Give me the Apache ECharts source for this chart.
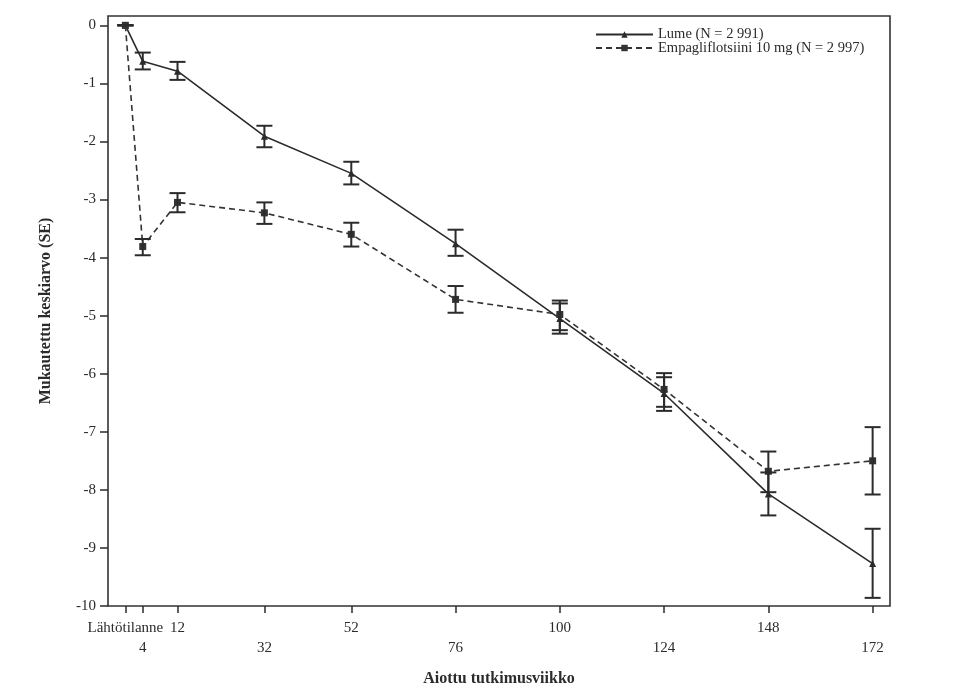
<!DOCTYPE html>
<html>
<head>
<meta charset="utf-8">
<script src="https://cdn.jsdelivr.net/npm/echarts@6/dist/echarts.min.js"></script>
<style>
  html, body { margin: 0; padding: 0; background: #fff; }
  #chart { width: 963px; height: 696px; }
</style>
</head>
<body>
<div id="chart"></div>
<script>
// study weeks and their tick labels
const weeks = [0, 4, 12, 32, 52, 76, 100, 124, 148, 172];
const weekLabels = ['Lähtötilanne', '4', '12', '32', '52', '76', '100', '124', '148', '172'];
const yTicks = [-10, -9, -8, -7, -6, -5, -4, -3, -2, -1, 0];

// adjusted mean (SE)
const lumeMean = [0, -0.62, -0.79, -1.91, -2.55, -3.76, -5.05, -6.34, -8.07, -9.27];
const lumeLow  = [0, -0.76, -0.94, -2.10, -2.74, -3.97, -5.31, -6.64, -8.44, -9.86];
const lumeHigh = [0, -0.47, -0.63, -1.73, -2.35, -3.52, -4.79, -6.06, -7.70, -8.67];

const empaMean = [0, -3.81, -3.05, -3.23, -3.60, -4.72, -4.98, -6.27, -7.68, -7.50];
const empaLow  = [0, -3.96, -3.22, -3.42, -3.81, -4.95, -5.25, -6.57, -8.04, -8.08];
const empaHigh = [0, -3.68, -2.89, -3.05, -3.40, -4.49, -4.74, -5.99, -7.34, -6.92];

const lumeName = 'Lume (N = 2 991)';
const empaName = 'Empagliflotsiini 10 mg (N = 2 997)';

const ink = '#2b2b2b';
const font = 'Liberation Serif';

// labels alternate between two rows under the axis
const upperWeeks = weeks.filter((w, i) => i % 2 === 0);
const lowerWeeks = weeks.filter((w, i) => i % 2 === 1);

function points(ys) {
  return weeks.map((w, i) => [w, ys[i]]);
}
function bars(lo, hi) {
  return weeks.map((w, i) => [w, lo[i], hi[i]]);
}
function weekLabel(v) {
  const i = weeks.indexOf(v);
  return i < 0 ? '' : weekLabels[i];
}

function renderErrorBar(params, api) {
  const x = api.value(0);
  const lo = api.coord([x, api.value(1)]);
  const hi = api.coord([x, api.value(2)]);
  const w = 8;
  const style = { stroke: ink, lineWidth: 2 };
  return {
    type: 'group',
    children: [
      { type: 'line', shape: { x1: lo[0], y1: lo[1], x2: hi[0], y2: hi[1] }, style },
      { type: 'line', shape: { x1: lo[0] - w, y1: lo[1], x2: lo[0] + w, y2: lo[1] }, style },
      { type: 'line', shape: { x1: hi[0] - w, y1: hi[1], x2: hi[0] + w, y2: hi[1] }, style }
    ]
  };
}

const labelFont = { fontFamily: font, fontSize: 15, color: ink };

const chart = echarts.init(document.getElementById('chart'));
chart.setOption({
  animation: false,
  backgroundColor: '#fff',
  textStyle: { fontFamily: font, color: ink },
  grid: {
    left: 108, right: 73, top: 16, bottom: 90,
    show: true, borderColor: '#333', borderWidth: 1.6
  },
  legend: {
    orient: 'vertical',
    left: 590, top: 22,
    itemWidth: 57, itemHeight: 8, itemGap: -1.5,
    data: [lumeName, empaName],
    textStyle: { fontFamily: font, fontSize: 14.5, color: ink }
  },
  xAxis: [
    {
      type: 'value',
      position: 'bottom',
      min: -4, max: 176,
      name: 'Aiottu tutkimusviikko',
      nameLocation: 'middle',
      nameGap: 65,
      nameTextStyle: { fontFamily: font, fontSize: 16, fontWeight: 'bold', color: ink },
      axisLine: { show: false, onZero: false },
      splitLine: { show: false },
      axisTick: { show: true, length: 7, interval: 0, customValues: weeks, lineStyle: { color: ink, width: 1.5 } },
      axisLabel: Object.assign({
        customValues: upperWeeks,
        interval: 0, hideOverlap: false,
        showMinLabel: true, showMaxLabel: true,
        margin: 15,
        formatter: weekLabel
      }, labelFont)
    },
    {
      type: 'value',
      position: 'bottom',
      offset: 0,
      min: -4, max: 176,
      axisLine: { show: false, onZero: false },
      splitLine: { show: false },
      axisTick: { show: false },
      axisLabel: Object.assign({
        customValues: lowerWeeks,
        interval: 0, hideOverlap: false,
        showMinLabel: true, showMaxLabel: true,
        margin: 35,
        formatter: weekLabel
      }, labelFont)
    }
  ],
  yAxis: {
    type: 'value',
    min: -10, max: 0.16,
    name: 'Mukautettu keskiarvo (SE)',
    nameLocation: 'middle',
    nameGap: 54,
    nameTextStyle: { fontFamily: font, fontSize: 16, fontWeight: 'bold', color: ink },
    axisLine: { show: false, onZero: false },
    splitLine: { show: false },
    axisTick: { show: true, length: 8, customValues: yTicks, lineStyle: { color: ink, width: 1.5 } },
    axisLabel: Object.assign({
      customValues: yTicks,
      showMinLabel: true, showMaxLabel: true,
      margin: 12,
      formatter: v => String(v)
    }, labelFont)
  },
  series: [
    {
      name: lumeName,
      type: 'line',
      data: points(lumeMean),
      symbol: 'triangle', symbolSize: 7,
      color: ink,
      lineStyle: { color: ink, width: 1.6, type: 'solid' },
      itemStyle: { color: ink },
      z: 3
    },
    {
      name: empaName,
      type: 'line',
      data: points(empaMean),
      symbol: 'rect', symbolSize: 7,
      color: '#333',
      lineStyle: { color: '#333', width: 1.6, type: [6, 4] },
      itemStyle: { color: '#333' },
      z: 3
    },
    {
      name: 'lumeSE',
      type: 'custom',
      renderItem: renderErrorBar,
      data: bars(lumeLow, lumeHigh),
      encode: { x: 0, y: [1, 2] },
      z: 4
    },
    {
      name: 'empaSE',
      type: 'custom',
      renderItem: renderErrorBar,
      data: bars(empaLow, empaHigh),
      encode: { x: 0, y: [1, 2] },
      z: 4
    }
  ]
});
</script>
</body>
</html>
